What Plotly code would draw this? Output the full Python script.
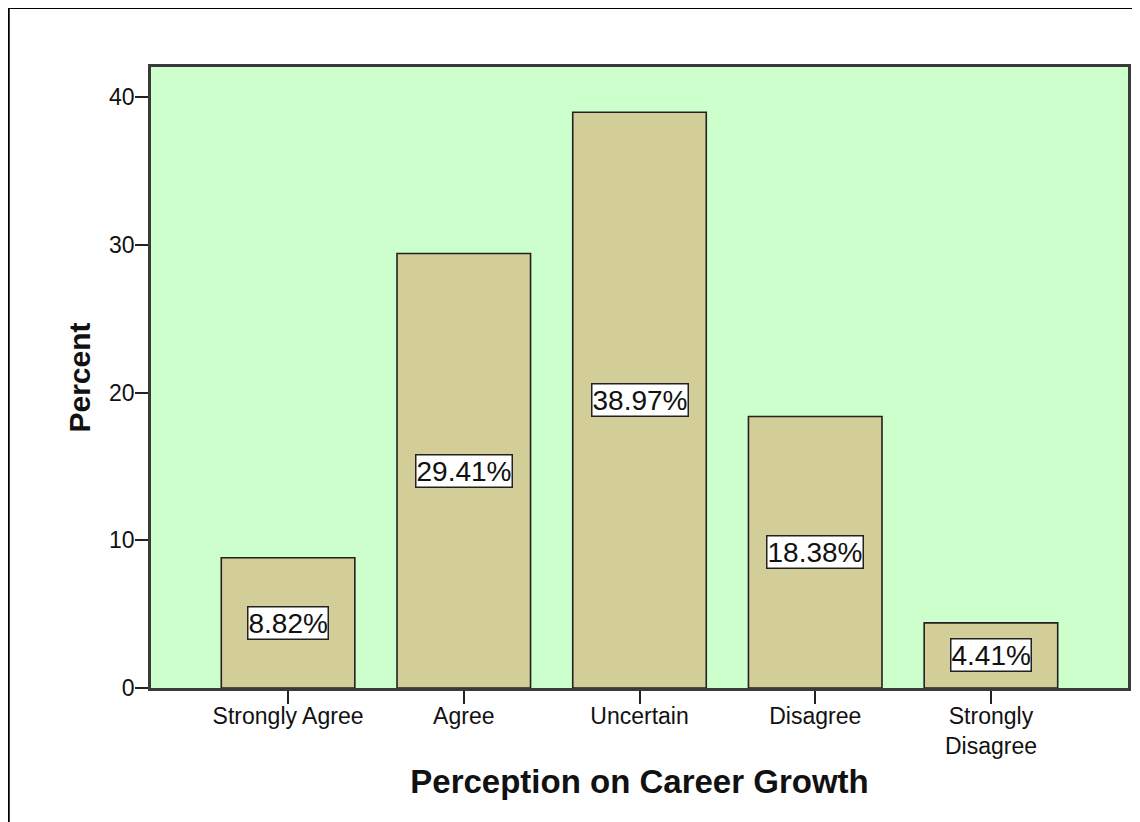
import plotly.graph_objects as go

categories = ["Strongly Agree", "Agree", "Uncertain", "Disagree", "Strongly Disagree"]
tick_labels = ["Strongly Agree", "Agree", "Uncertain", "Disagree", "Strongly<br>Disagree"]
percent = [8.82, 29.41, 38.97, 18.38, 4.41]
value_labels = ["8.82%", "29.41%", "38.97%", "18.38%", "4.41%"]
y_ticks = [0, 10, 20, 30, 40]

FONT = "Liberation Sans, Arial, sans-serif"
# page body has an 8px margin, so the figure is placed at (8, 8)
OFF = 8
W, H = 1140 - OFF, 822 - OFF
ML, MR, MT, MB = 151 - OFF, 12, 67 - OFF, 134
PW, PH = W - ML - MR, H - MT - MB

def px_x(p):
    return (p - OFF - ML) / PW

def px_y(p):
    return (H - MB - (p - OFF)) / PH

fig = go.Figure()
fig.add_trace(go.Bar(
    x=categories, y=percent,
    marker=dict(color="#D3CD97", line=dict(color="#222222", width=1.6)),
    width=0.76, hoverinfo="skip",
))

annotations = []
for c, v, lab in zip(categories, percent, value_labels):
    annotations.append(dict(
        x=c, y=v / 2, xref="x", yref="y", text=lab, showarrow=False,
        font=dict(family=FONT, size=28, color="#111111"),
        bgcolor="white", bordercolor="#222222", borderwidth=1.5, borderpad=0,
    ))

shapes = [
    dict(type="line", xref="paper", yref="paper",
         x0=px_x(8), x1=px_x(1150), y0=px_y(8.0), y1=px_y(8.0),
         line=dict(color="black", width=2)),
    dict(type="line", xref="paper", yref="paper",
         x0=px_x(8.5), x1=px_x(8.5), y0=px_y(7.0), y1=px_y(840),
         line=dict(color="black", width=2.5)),
]

fig.update_layout(
    width=W, height=H, autosize=False,
    margin=dict(l=ML, r=MR, t=MT, b=MB, pad=0),
    paper_bgcolor="white", plot_bgcolor="#CCFFCC",
    showlegend=False,
    annotations=annotations, shapes=shapes,
    font=dict(family=FONT, color="#111111"),
    xaxis=dict(
        type="category", range=[-0.78, 4.78],
        tickmode="array", tickvals=categories, ticktext=tick_labels,
        ticks="outside", ticklen=13, tickwidth=2, tickcolor="#222222",
        tickfont=dict(family=FONT, size=23, color="#111111"),
        ticklabelstandoff=-7,
        showline=True, linecolor="#3a3a3a", linewidth=2.5, mirror=True,
        showgrid=False, zeroline=False, automargin=False,
        title=dict(text="<b>Perception on Career Growth</b>",
                   font=dict(family=FONT, size=33, color="#111111"), standoff=12),
    ),
    yaxis=dict(
        range=[0, 42.03], tickmode="array", tickvals=y_ticks,
        ticks="outside", ticklen=13, tickwidth=2, tickcolor="#222222",
        tickfont=dict(family=FONT, size=23, color="#111111"),
        ticklabelstandoff=-4,
        showline=True, linecolor="#3a3a3a", linewidth=2.5, mirror=True,
        showgrid=False, zeroline=False, automargin=False,
        title=dict(text="<b>Percent</b>",
                   font=dict(family=FONT, size=30, color="#111111"), standoff=10),
    ),
)

fig.write_html("out.html")
